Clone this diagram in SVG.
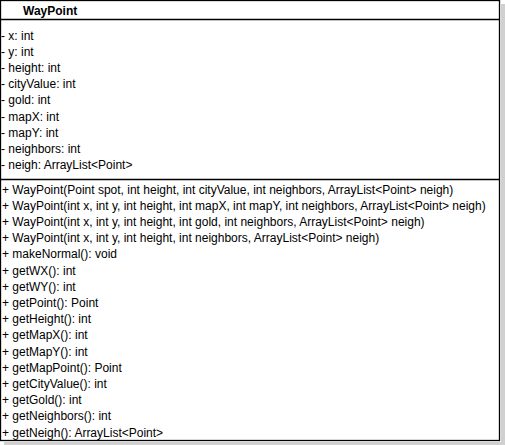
<svg xmlns="http://www.w3.org/2000/svg" width="505" height="445" viewBox="0 0 505 445">
  <style>
    .box { fill: #ffffff; stroke: #000000; stroke-width: 1.3; }
    .sep { stroke: #000000; stroke-width: 1.3; }
    .shadow { fill: #d0d0d0; }
    .title { font-family: "Liberation Sans", Arial, sans-serif; font-size: 12px; font-weight: bold; fill: #000000; }
    .member { font-family: "Liberation Sans", Arial, sans-serif; font-size: 12px; fill: #000000; }
  </style>
  <rect width="505" height="445" fill="#ffffff"/>
  <g id="WayPoint">
    <!-- drop shadow -->
    <rect class="shadow" x="501" y="4" width="4" height="441"/>
    <rect class="shadow" x="4" y="442" width="501" height="3"/>
    <!-- class frame and compartments -->
    <rect class="box" x="0.5" y="0.5" width="499" height="440"/>
    <line class="sep" x1="0" y1="19.5" x2="500" y2="19.5"/>
    <line class="sep" x1="0" y1="179.5" x2="500" y2="179.5"/>
    <text class="title" x="23" y="14.5">WayPoint</text>
    <!-- attributes -->
    <g class="member">
      <text x="1" y="39.5">- x: int</text>
      <text x="1" y="55.7">- y: int</text>
      <text x="1" y="71.9">- height: int</text>
      <text x="1" y="88.1">- cityValue: int</text>
      <text x="1" y="104.3">- gold: int</text>
      <text x="1" y="120.5">- mapX: int</text>
      <text x="1" y="136.7">- mapY: int</text>
      <text x="1" y="152.9">- neighbors: int</text>
      <text x="1" y="169.1">- neigh: ArrayList&lt;Point&gt;</text>
    </g>
    <!-- operations -->
    <g class="member">
      <text x="2" y="193.5">+ WayPoint(Point spot, int height, int cityValue, int neighbors, ArrayList&lt;Point&gt; neigh)</text>
      <text x="2" y="209.7">+ WayPoint(int x, int y, int height, int mapX, int mapY, int neighbors, ArrayList&lt;Point&gt; neigh)</text>
      <text x="2" y="225.9">+ WayPoint(int x, int y, int height, int gold, int neighbors, ArrayList&lt;Point&gt; neigh)</text>
      <text x="2" y="242.1">+ WayPoint(int x, int y, int height, int neighbors, ArrayList&lt;Point&gt; neigh)</text>
      <text x="2" y="258.3">+ makeNormal(): void</text>
      <text x="2" y="274.5">+ getWX(): int</text>
      <text x="2" y="290.7">+ getWY(): int</text>
      <text x="2" y="306.9">+ getPoint(): Point</text>
      <text x="2" y="323.1">+ getHeight(): int</text>
      <text x="2" y="339.3">+ getMapX(): int</text>
      <text x="2" y="355.5">+ getMapY(): int</text>
      <text x="2" y="371.7">+ getMapPoint(): Point</text>
      <text x="2" y="387.9">+ getCityValue(): int</text>
      <text x="2" y="404.1">+ getGold(): int</text>
      <text x="2" y="420.3">+ getNeighbors(): int</text>
      <text x="2" y="436.5">+ getNeigh(): ArrayList&lt;Point&gt;</text>
    </g>
  </g>
</svg>
